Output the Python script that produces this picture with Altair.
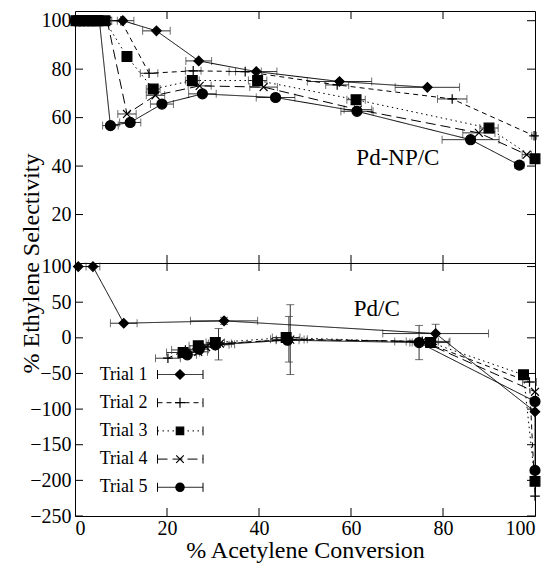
import altair as alt
import pandas as pd

TRIALS = ["Trial 1", "Trial 2", "Trial 3", "Trial 4", "Trial 5"]
DASHES = [[1, 0], [5, 4], [1.5, 3.5], [10, 5], [1, 0]]
PLUS = "M-1,0L1,0M0,-1L0,1"
XMARK = "M-0.8,-0.8L0.8,0.8M0.8,-0.8L-0.8,0.8"
SHAPES = ["diamond", PLUS, "square", XMARK, "circle"]
SIZES = [90, 100, 55, 90, 70]
FONT = "Liberation Serif"

X_TICKS = [0, 20, 40, 60, 80, 100]
NP_Y_TICKS = [20, 40, 60, 80, 100]
PC_Y_TICKS = [100, 50, 0, -50, -100, -150, -200, -250]

# ---- Pd-NP/C panel (top) ----
NP_T1_X = [0.3, 1.2, 2.1, 3.0, 3.9, 4.8, 5.7, 10.4, 17.7, 26.9, 39.4, 57.5, 76.6]
NP_T1_Y = [100, 100, 100, 100, 100, 100, 100, 100, 95.8, 83.4, 79.0, 74.9, 72.5]
NP_T1_XE = [0.8, 0.8, 0.8, 0.8, 0.8, 0.8, 0.8, 2.4, 3.0, 2.8, 4.5, 7.0, 7.0]

NP_T2_X = [0.5, 1.5, 2.5, 3.5, 4.5, 5.5, 6.5, 10.0, 16.1, 25.7, 37.0, 57.0, 82.0, 99.8]
NP_T2_Y = [100, 100, 100, 100, 100, 100, 100, 100, 78.3, 79.3, 79.0, 73.5, 67.7, 52.5]
NP_T2_XE = [0.8, 0.8, 0.8, 0.8, 0.8, 0.8, 0.8, 0.8, 1.9, 1.7, 3.5, 2.5, 3.2, 0.5]

NP_T3_X = [0.2, 1.0, 2.0, 3.0, 4.0, 5.0, 6.5, 11.3, 17.0, 25.5, 39.7, 61.1, 90.0, 100.0]
NP_T3_Y = [100, 100, 100, 100, 100, 100, 100, 85.2, 71.8, 75.3, 75.3, 67.4, 55.7, 43.0]
NP_T3_XE = [0.8, 0.8, 0.8, 0.8, 0.8, 0.8, 0.8, 1.0, 1.5, 1.5, 2.0, 2.0, 2.0, 0.5]

NP_T4_X = [0.4, 1.3, 2.2, 3.2, 4.2, 5.2, 7.0, 11.3, 17.5, 27.1, 41.0, 61.5, 87.8, 98.2]
NP_T4_Y = [100, 100, 100, 100, 100, 100, 100, 61.5, 69.2, 73.1, 72.6, 63.3, 53.7, 44.7]
NP_T4_XE = [0.8, 0.8, 0.8, 0.8, 0.8, 0.8, 0.8, 2.0, 2.0, 2.5, 3.0, 3.0, 3.5, 1.0]

NP_T5_X = [0.1, 0.9, 1.8, 2.7, 3.6, 4.5, 5.3, 7.7, 12.0, 18.9, 27.7, 43.6, 61.3, 86.0, 96.6]
NP_T5_Y = [100, 100, 100, 100, 100, 100, 100, 56.7, 58.0, 65.6, 69.8, 68.3, 62.6, 50.9, 40.4]
NP_T5_XE = [0.8, 0.8, 0.8, 0.8, 0.8, 0.8, 0.8, 1.7, 2.3, 2.5, 3.0, 4.2, 3.5, 6.2, 1.0]

# ---- Pd/C panel (bottom) ----
PC_T1_X = [0.7, 3.9, 10.6, 32.4, 78.4, 100.0]
PC_T1_Y = [100, 100, 20.5, 23.8, 6.0, -103.7]
PC_T1_XE = [0.0, 1.5, 2.9, 7.3, 11.5, 0.0]
PC_T1_YE = [0, 0, 0, 5, 13, 0]

PC_T2_X = [20.2, 24.0, 31.2, 46.5, 75.5, 98.8, 100.0]
PC_T2_Y = [-28.6, -17.0, -9.0, -2.0, -5.0, -62.0, -222.0]
PC_T2_XE = [2.7, 3.0, 3.5, 4.0, 6.0, 1.5, 0.0]
PC_T2_YE = [0, 0, 22, 32, 0, 0, 0]

PC_T3_X = [23.5, 26.8, 30.5, 45.9, 77.3, 97.5, 100.0]
PC_T3_Y = [-20.6, -11.2, -6.6, 0.4, -6.6, -51.9, -201.4]
PC_T3_XE = [3.6, 2.0, 2.0, 3.0, 4.0, 1.0, 0.0]
PC_T3_YE = [0, 0, 0, 0, 0, 0, 0]

PC_T4_X = [26.8, 28.5, 31.5, 46.8, 75.5, 100.0]
PC_T4_Y = [-19.6, -13.0, -8.0, -2.5, -5.0, -75.7]
PC_T4_XE = [2.0, 2.0, 2.5, 3.0, 3.5, 0.0]
PC_T4_YE = [0, 0, 0, 49, 0, 0]

PC_T5_X = [24.4, 27.0, 30.5, 46.2, 74.8, 100.0, 100.0]
PC_T5_Y = [-23.8, -16.0, -9.8, -3.3, -6.6, -89.3, -186.0]
PC_T5_XE = [2.0, 2.0, 3.0, 2.5, 2.0, 0.0, 0.0]
PC_T5_YE = [0, 0, 0, 0, 24, 0, 0]

W = 460
H_TOP = 252
H_BOT = 253
EB = "#333333"


def rows(trial, xs, ys, xe, ye=None):
    out = []
    for i, (x, y) in enumerate(zip(xs, ys)):
        e = xe[i]
        v = ye[i] if ye is not None else 0
        out.append(dict(trial=trial, idx=i, x=x, y=y, xlo=x - e, xhi=x + e,
                        ylo=y - v, yhi=y + v, xe=e, ye=v))
    return out


np_rows = (rows(TRIALS[0], NP_T1_X, NP_T1_Y, NP_T1_XE) + rows(TRIALS[1], NP_T2_X, NP_T2_Y, NP_T2_XE)
           + rows(TRIALS[2], NP_T3_X, NP_T3_Y, NP_T3_XE) + rows(TRIALS[3], NP_T4_X, NP_T4_Y, NP_T4_XE)
           + rows(TRIALS[4], NP_T5_X, NP_T5_Y, NP_T5_XE))
pc_rows = (rows(TRIALS[0], PC_T1_X, PC_T1_Y, PC_T1_XE, PC_T1_YE) + rows(TRIALS[1], PC_T2_X, PC_T2_Y, PC_T2_XE, PC_T2_YE)
           + rows(TRIALS[2], PC_T3_X, PC_T3_Y, PC_T3_XE, PC_T3_YE) + rows(TRIALS[3], PC_T4_X, PC_T4_Y, PC_T4_XE, PC_T4_YE)
           + rows(TRIALS[4], PC_T5_X, PC_T5_Y, PC_T5_XE, PC_T5_YE))
np_df = pd.DataFrame(np_rows)
pc_df = pd.DataFrame(pc_rows)


def panel(df, ydom, yvals, h, xaxis, xtitle, yaxis, ytitle, note, note_x, note_y, legend):
    xs = alt.Scale(domain=[0, 100], nice=False, zero=False)
    ys = alt.Scale(domain=ydom, nice=False, zero=False)

    def X(f):
        return alt.X(f, type="quantitative", scale=xs, axis=xaxis, title=xtitle)

    def Y(f):
        return alt.Y(f, type="quantitative", scale=ys, axis=yaxis, title=ytitle)

    dash = alt.StrokeDash("trial:N", scale=alt.Scale(domain=TRIALS, range=DASHES), legend=None)
    shape = alt.Shape("trial:N", scale=alt.Scale(domain=TRIALS, range=SHAPES), legend=None)
    size = alt.Size("trial:N", scale=alt.Scale(domain=TRIALS, range=SIZES), legend=None)

    xe = df[df.xe > 0]
    ye = df[df.ye > 0]
    xcaps = pd.concat([xe[["xlo", "y"]].rename(columns={"xlo": "cx"}),
                       xe[["xhi", "y"]].rename(columns={"xhi": "cx"})])
    ycaps = pd.concat([ye[["x", "ylo"]].rename(columns={"ylo": "cy"}),
                       ye[["x", "yhi"]].rename(columns={"yhi": "cy"})])

    layers = []
    layers.append(alt.Chart(xe).mark_rule(color=EB, strokeWidth=1).encode(x=X("xlo"), x2="xhi", y=Y("y")))
    layers.append(alt.Chart(xcaps).mark_tick(orient="vertical", size=8, thickness=1, color=EB).encode(x=X("cx"), y=Y("y")))
    if len(ye):
        layers.append(alt.Chart(ye).mark_rule(color=EB, strokeWidth=1).encode(x=X("x"), y=Y("ylo"), y2="yhi"))
        layers.append(alt.Chart(ycaps).mark_tick(orient="horizontal", size=8, thickness=1, color=EB).encode(x=X("x"), y=Y("cy")))
    layers.append(alt.Chart(df).mark_line(color="black", strokeWidth=1).encode(
        x=X("x"), y=Y("y"), order=alt.Order("idx:Q"), detail="trial:N", strokeDash=dash))
    layers.append(alt.Chart(df).mark_point(fill="black", stroke="black", strokeWidth=1.2, opacity=1).encode(
        x=X("x"), y=Y("y"), shape=shape, size=size))

    # inward ticks
    xt = pd.DataFrame({"v": X_TICKS[1:-1]})
    layers.append(alt.Chart(xt).mark_rule(color="black").encode(x=X("v"), y=alt.value(h), y2=alt.value(h - 8)))
    layers.append(alt.Chart(xt).mark_rule(color="black").encode(x=X("v"), y=alt.value(0), y2=alt.value(8)))
    yt = pd.DataFrame({"v": yvals})
    layers.append(alt.Chart(yt).mark_rule(color="black").encode(y=Y("v"), x=alt.value(0), x2=alt.value(8)))
    layers.append(alt.Chart(yt).mark_rule(color="black").encode(y=Y("v"), x=alt.value(W), x2=alt.value(W - 8)))

    nd = pd.DataFrame({"x": [note_x], "y": [note_y], "t": [note]})
    layers.append(alt.Chart(nd).mark_text(font=FONT, fontSize=23, color="black").encode(x=X("x"), y=Y("y"), text="t:N"))

    if legend:
        one = pd.DataFrame({"a": [0]})
        for i, t in enumerate(TRIALS):
            yy = 111.5 + 28.2 * i
            layers.append(alt.Chart(one).mark_text(text=t, align="right", baseline="middle", font=FONT,
                                                   fontSize=18, color="black").encode(x=alt.value(72.5), y=alt.value(yy)))
            layers.append(alt.Chart(one).mark_rule(color="black", strokeWidth=1, strokeDash=DASHES[i]).encode(
                x=alt.value(82.5), x2=alt.value(128), y=alt.value(yy)))
            for cx in (82.5, 128):
                layers.append(alt.Chart(one).mark_rule(color="black", strokeWidth=1).encode(
                    x=alt.value(cx), y=alt.value(yy - 4.5), y2=alt.value(yy + 4.5)))
            layers.append(alt.Chart(one).mark_point(shape=SHAPES[i], size=SIZES[i], fill="black", stroke="black",
                                                    strokeWidth=1.2, opacity=1).encode(x=alt.value(105), y=alt.value(yy)))

    return alt.layer(*layers).properties(width=W, height=h)


top_x_axis = alt.Axis(labels=False, ticks=False, domain=False, grid=False)
top_y_axis = alt.Axis(values=NP_Y_TICKS, domain=False, grid=False, ticks=False, titleY=H_TOP,
                      titlePadding=-2)
bot_x_axis = alt.Axis(values=X_TICKS, domain=False, grid=False, ticks=False, labelPadding=2, titlePadding=0)
bot_y_axis = alt.Axis(values=PC_Y_TICKS, domain=False, grid=False, ticks=False)

top = panel(np_df, [0, 104], NP_Y_TICKS, H_TOP, top_x_axis, None, top_y_axis, "% Ethylene Selectivity",
            "Pd-NP/C", 70.2, 43.4, False)
bot = panel(pc_df, [-250, 105], PC_Y_TICKS, H_BOT, bot_x_axis, "% Acetylene Conversion", bot_y_axis, None,
            "Pd/C", 65.6, 40, True)

chart = alt.vconcat(top, bot, spacing=0, bounds="flush").properties(
    padding={"left": 10, "top": 2, "right": 0, "bottom": 0}
).configure_view(stroke="black", strokeWidth=1).configure_axis(
    labelFont=FONT, labelFontSize=20, labelColor="black", labelPadding=4,
    titleFont=FONT, titleFontSize=24, titleFontWeight="normal", titleColor="black"
)

chart.save("out.html", embed_options={"renderer": "svg", "actions": False})
